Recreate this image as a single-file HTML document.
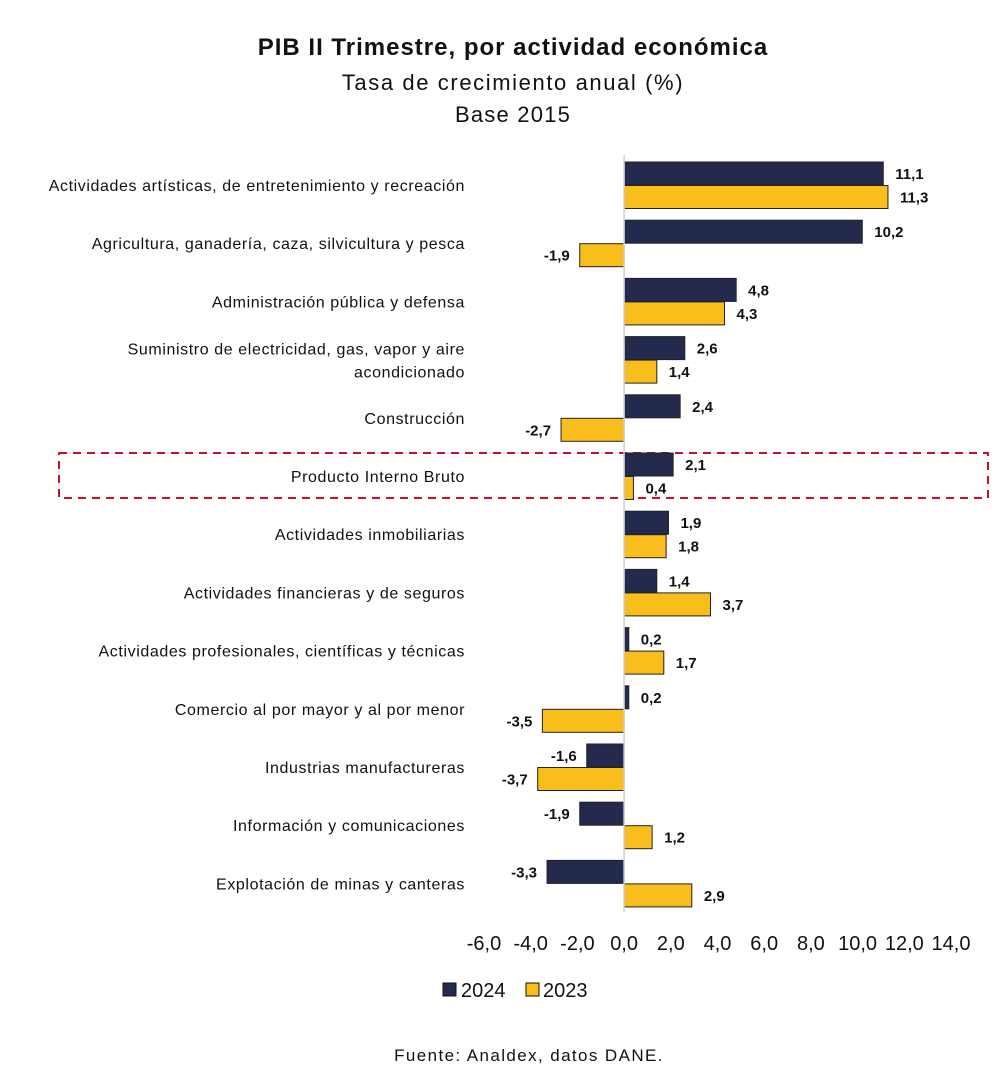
<!DOCTYPE html>
<html lang="es">
<head>
<meta charset="utf-8">
<style>
  html,body{margin:0;padding:0;background:#fff;}
  body{width:1000px;height:1086px;overflow:hidden;font-family:"Liberation Sans",sans-serif;}
  svg text{font-family:"Liberation Sans",sans-serif;}
</style>
</head>
<body>
<svg id="chart" width="1000" height="1086" viewBox="0 0 1000 1086" xmlns="http://www.w3.org/2000/svg">
  <text x="513" y="55" text-anchor="middle" font-size="24" font-weight="bold" fill="#111" letter-spacing="1">PIB II Trimestre, por actividad económica</text>
  <text x="513" y="90" text-anchor="middle" font-size="22" fill="#111" letter-spacing="1.6">Tasa de crecimiento anual (%)</text>
  <text x="513" y="122" text-anchor="middle" font-size="22" fill="#111" letter-spacing="1.2">Base 2015</text>
  <rect x="59" y="453" width="929" height="45" fill="none" stroke="#c8102e" stroke-width="2" stroke-dasharray="8,6"/>
  <g id="bars"></g>
  <g id="axis"></g>
  <g>
    <rect x="443" y="983" width="13" height="13" fill="#232a4e" stroke="#111" stroke-width="1"/>
    <text x="461" y="997" font-size="20" fill="#111">2024</text>
    <rect x="526" y="983" width="13" height="13" fill="#f9be1c" stroke="#111" stroke-width="1"/>
    <text x="543" y="997" font-size="20" fill="#111">2023</text>
  </g>
  <text x="529" y="1061" text-anchor="middle" font-size="17" fill="#111" letter-spacing="1.4">Fuente: Analdex, datos DANE.</text>
</svg>
<script>
const categories = [
  ["Actividades artísticas, de entretenimiento y recreación"],
  ["Agricultura, ganadería, caza, silvicultura y pesca"],
  ["Administración pública y defensa"],
  ["Suministro de electricidad, gas, vapor y aire","acondicionado"],
  ["Construcción"],
  ["Producto Interno Bruto"],
  ["Actividades inmobiliarias"],
  ["Actividades financieras y de seguros"],
  ["Actividades profesionales, científicas y técnicas"],
  ["Comercio al por mayor y al por menor"],
  ["Industrias manufactureras"],
  ["Información y comunicaciones"],
  ["Explotación de minas y canteras"]
];
const values2024 = [11.1, 10.2, 4.8, 2.6, 2.4, 2.1, 1.9, 1.4, 0.2, 0.2, -1.6, -1.9, -3.3];
const values2023 = [11.3, -1.9, 4.3, 1.4, -2.7, 0.4, 1.8, 3.7, 1.7, -3.5, -3.7, 1.2, 2.9];
const xTicks = [-6, -4, -2, 0, 2, 4, 6, 8, 10, 12, 14];

const NS = "http://www.w3.org/2000/svg";
const xMin = -6, xMax = 14, px0 = 484, px1 = 951;
function xScale(v){ return px0 + (v - xMin) * (px1 - px0) / (xMax - xMin); }
const rowTop = 155, rowStep = 58.2;
function yRow(i){ return rowTop + i * rowStep; }
function fmt(v){ return v.toFixed(1).replace('.', ','); }
function mk(tag, attrs, parent){
  const e = document.createElementNS(NS, tag);
  for (const k in attrs) e.setAttribute(k, attrs[k]);
  parent.appendChild(e);
  return e;
}
const bars = document.getElementById('bars');
const axis = document.getElementById('axis');
const series = [[values2024, "#232a4e", "2024", 7], [values2023, "#f9be1c", "2023", 30.5]];

categories.forEach((lines, i) => {
  const top = yRow(i);
  const cy = top + 30;
  const lab = mk('text', {x: 465, "text-anchor": "end", "font-size": 16, fill: "#111", "letter-spacing": 0.6}, bars);
  
  
  if (lines.length === 1) {
    lab.setAttribute('y', cy + 6);
    lab.textContent = lines[0];
  } else {
    lines.forEach((ln, k) => {
      const ts = mk('tspan', {x: 465, y: cy - 5 + k * 23}, lab);
      ts.textContent = ln;
    });
  }
  series.forEach(([vals, color, yr, off]) => {
    const v = vals[i];
    const x0 = xScale(0), x1 = xScale(v);
    const by = top + off;
    const r = mk('rect', {x: Math.min(x0, x1), y: by, width: Math.abs(x1 - x0), height: 23, fill: color, stroke: "#222", "stroke-width": 1}, bars);
    
    
    const t = mk('text', {y: by + 17, "font-size": 15, "font-weight": "bold", fill: "#111"}, bars);
    
    
    if (v >= 0) { t.setAttribute('x', x1 + 12); t.setAttribute('text-anchor', 'start'); }
    else { t.setAttribute('x', x1 - 10); t.setAttribute('text-anchor', 'end'); }
    t.textContent = fmt(v);
  });
});

const zl = mk('line', {x1: xScale(0), x2: xScale(0), y1: 155, y2: 912, stroke: "#d0d0d0", "stroke-width": 1.5}, axis);


xTicks.forEach(v => {
  const t = mk('text', {x: xScale(v), y: 950, "text-anchor": "middle", "font-size": 20, fill: "#111"}, axis);
  
  
  t.textContent = fmt(v);
});
</script>
</body>
</html>
